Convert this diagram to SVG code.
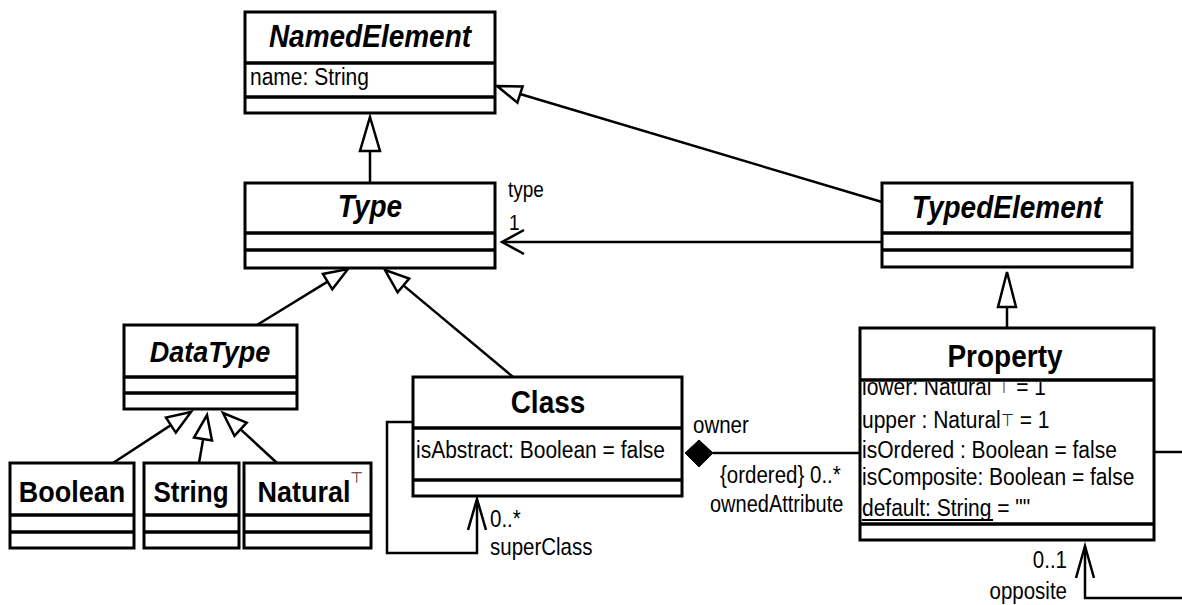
<svg xmlns="http://www.w3.org/2000/svg" width="1182" height="605" viewBox="0 0 1182 605">
  <style>
    .box { fill: #fff; stroke: #000; stroke-width: 3; }
    .sep { stroke: #000; stroke-width: 3.5; }
    text { font-family: "Liberation Sans", Arial, Helvetica, sans-serif; fill: #000; }
    .title { font-weight: bold; font-size: 27px; text-anchor: middle; }
    .abstract { font-style: italic; }
    .attr { font-size: 21px; }
    .lbl { font-size: 20.5px; }
    .end { text-anchor: end; }
    .sup { fill: #6a1f2c; font-size: 15px; font-family: "DejaVu Sans", sans-serif; font-weight: normal; }
    .edge { stroke: #000; stroke-width: 2.5; fill: none; }
    .gen { fill: #fff; stroke: #000; stroke-width: 2.5; stroke-linejoin: miter; }
    .open { fill: none; stroke: #000; stroke-width: 2.5; }
  </style>
  <defs>
    <clipPath id="attrArea">
      <rect x="860" y="382" width="294" height="142"/>
    </clipPath>
  </defs>

  <!-- connectors -->
  <g id="connectors">
    <!-- Type generalizes NamedElement -->
    <line class="edge" x1="370" y1="183" x2="370" y2="150"/>
    <polygon class="gen" points="370,117 380,151 360,151"/>
    <!-- TypedElement generalizes NamedElement -->
    <line class="edge" x1="882" y1="202" x2="520" y2="94"/>
    <polygon class="gen" points="497,86 522.6,86.4 517.4,102.6"/>
    <!-- Property generalizes TypedElement -->
    <line class="edge" x1="1007" y1="328" x2="1007" y2="306"/>
    <polygon class="gen" points="1007,272 1016,307 998,307"/>
    <!-- TypedElement.type -> Type -->
    <line class="edge" x1="882" y1="242" x2="502" y2="242"/>
    <polyline class="open" points="524,230 502,242 524,254"/>
    <!-- DataType generalizes Type -->
    <line class="edge" x1="257" y1="325" x2="327.6" y2="281.6"/>
    <polygon class="gen" points="348,269 332.3,289.3 322.9,273.9"/>
    <!-- Class generalizes Type -->
    <line class="edge" x1="513" y1="377" x2="403.4" y2="285.4"/>
    <polygon class="gen" points="385,270 409.2,278.5 397.6,292.3"/>
    <!-- Boolean / String / Natural generalize DataType -->
    <line class="edge" x1="113" y1="463" x2="170.9" y2="425.1"/>
    <polygon class="gen" points="191,412 175.8,432.6 166,417.6"/>
    <line class="edge" x1="199" y1="463" x2="203" y2="440"/>
    <polygon class="gen" points="207,415 212,440.5 194,437.5"/>
    <line class="edge" x1="277" y1="463" x2="240.6" y2="429.3"/>
    <polygon class="gen" points="223,413 246.7,422.7 234.5,435.9"/>
    <!-- Class.superClass self association -->
    <polyline class="edge" points="413,422 387,422 387,553 477,553 477,500"/>
    <polyline class="open" points="468,530 477,499 486,530"/>
    <!-- Class owns Property (composition) -->
    <line class="edge" x1="713" y1="453" x2="860" y2="453"/>
    <polygon points="685,453 699,440 713,453 699,467" fill="#000" stroke="#000" stroke-width="1"/>
    <!-- Property.opposite self association -->
    <line class="edge" x1="1154" y1="452" x2="1182" y2="452"/>
    <polyline class="edge" points="1182,598 1085,598 1085,547"/>
    <polyline class="open" points="1076,578 1085,546 1094,578"/>
  </g>

  <!-- association end labels -->
  <g id="labels">
    <text class="lbl" transform="translate(508 197) scale(1 1.15)" style="font-size:19px">type</text>
    <text class="lbl" transform="translate(509 230) scale(1 1.15)" style="font-size:19px">1</text>
    <text class="lbl" transform="translate(693 433) scale(1 1.15)">owner</text>
    <text class="lbl" transform="translate(720 483) scale(1 1.15)">{ordered} 0..*</text>
    <text class="lbl" transform="translate(710 512) scale(1 1.15)" style="font-size:20px">ownedAttribute</text>
    <text class="lbl" transform="translate(490 527) scale(1 1.15)">0..*</text>
    <text class="lbl" transform="translate(490 555) scale(1 1.15)">superClass</text>
    <text class="lbl end" transform="translate(1067 568) scale(1 1.15)">0..1</text>
    <text class="lbl end" transform="translate(1067 599) scale(1 1.15)">opposite</text>
  </g>

  <g id="NamedElement">
    <rect class="box" x="245" y="12" width="250" height="101"/>
    <line class="sep" x1="245" y1="63" x2="495" y2="63"/>
    <line class="sep" x1="245" y1="97" x2="495" y2="97"/>
    <text class="title abstract" transform="translate(370 47) scale(1 1.12)" style="font-size:28px">NamedElement</text>
    <text class="attr" transform="translate(250 85) scale(1 1.15)">name: String</text>
  </g>

  <g id="Type">
    <rect class="box" x="245" y="183" width="250" height="85"/>
    <line class="sep" x1="245" y1="233" x2="495" y2="233"/>
    <line class="sep" x1="245" y1="250" x2="495" y2="250"/>
    <text class="title abstract" transform="translate(370 217) scale(1 1.12)" style="font-size:28px">Type</text>
  </g>

  <g id="TypedElement">
    <rect class="box" x="882" y="183" width="250" height="84"/>
    <line class="sep" x1="882" y1="233" x2="1132" y2="233"/>
    <line class="sep" x1="882" y1="250" x2="1132" y2="250"/>
    <text class="title abstract" transform="translate(1007 218) scale(1 1.12)" style="font-size:28px">TypedElement</text>
  </g>

  <g id="DataType">
    <rect class="box" x="124" y="325" width="173" height="84"/>
    <line class="sep" x1="124" y1="377" x2="297" y2="377"/>
    <line class="sep" x1="124" y1="393" x2="297" y2="393"/>
    <text class="title abstract" transform="translate(210 362) scale(1 1.12)">DataType</text>
  </g>

  <g id="Boolean">
    <rect class="box" x="10" y="463" width="124" height="85"/>
    <line class="sep" x1="10" y1="515" x2="134" y2="515"/>
    <line class="sep" x1="10" y1="532" x2="134" y2="532"/>
    <text class="title" transform="translate(72 502) scale(1 1.12)">Boolean</text>
  </g>

  <g id="String">
    <rect class="box" x="144" y="463" width="95" height="85"/>
    <line class="sep" x1="144" y1="515" x2="239" y2="515"/>
    <line class="sep" x1="144" y1="532" x2="239" y2="532"/>
    <text class="title" transform="translate(191 502) scale(1 1.12)" style="font-size:26px">String</text>
  </g>

  <g id="Natural">
    <rect class="box" x="244" y="463" width="127" height="85"/>
    <line class="sep" x1="244" y1="515" x2="371" y2="515"/>
    <line class="sep" x1="244" y1="532" x2="371" y2="532"/>
    <text class="title" transform="translate(304 502) scale(1 1.12)">Natural</text>
    <text class="sup" x="350" y="483">⊤</text>
  </g>

  <g id="Class">
    <rect class="box" x="413" y="377" width="269" height="119"/>
    <line class="sep" x1="413" y1="428" x2="682" y2="428"/>
    <line class="sep" x1="413" y1="480" x2="682" y2="480"/>
    <text class="title" transform="translate(548 413) scale(1 1.12)" style="font-size:28px">Class</text>
    <text class="attr" transform="translate(416 458) scale(1 1.15)">isAbstract: Boolean = false</text>
  </g>

  <g id="Property">
    <rect class="box" x="860" y="328" width="294" height="212"/>
    <text class="title" transform="translate(1005 367) scale(1 1.12)" style="font-size:28px">Property</text>
    <g clip-path="url(#attrArea)">
      <text class="attr" transform="translate(862 395) scale(1 1.15)">lower: Natural <tspan class="sup" dy="-2">⊤</tspan><tspan dy="2"> = 1</tspan></text>
    </g>
    <text class="attr" transform="translate(862 428) scale(1 1.15)">upper : Natural<tspan class="sup" dy="-2" style="fill:#1c2340">⊤</tspan><tspan dy="2"> = 1</tspan></text>
    <text class="attr" transform="translate(862 458) scale(1 1.15)">isOrdered : Boolean = false</text>
    <text class="attr" transform="translate(862 485) scale(1 1.15)">isComposite: Boolean = false</text>
    <text class="attr" transform="translate(862 516) scale(1 1.15)">default: String = ""</text>
    <line x1="862" y1="520" x2="993" y2="520" stroke="#000" stroke-width="2"/>
    <line class="sep" x1="860" y1="380" x2="1154" y2="380"/>
    <line class="sep" x1="860" y1="524" x2="1154" y2="524"/>
  </g>
</svg>
